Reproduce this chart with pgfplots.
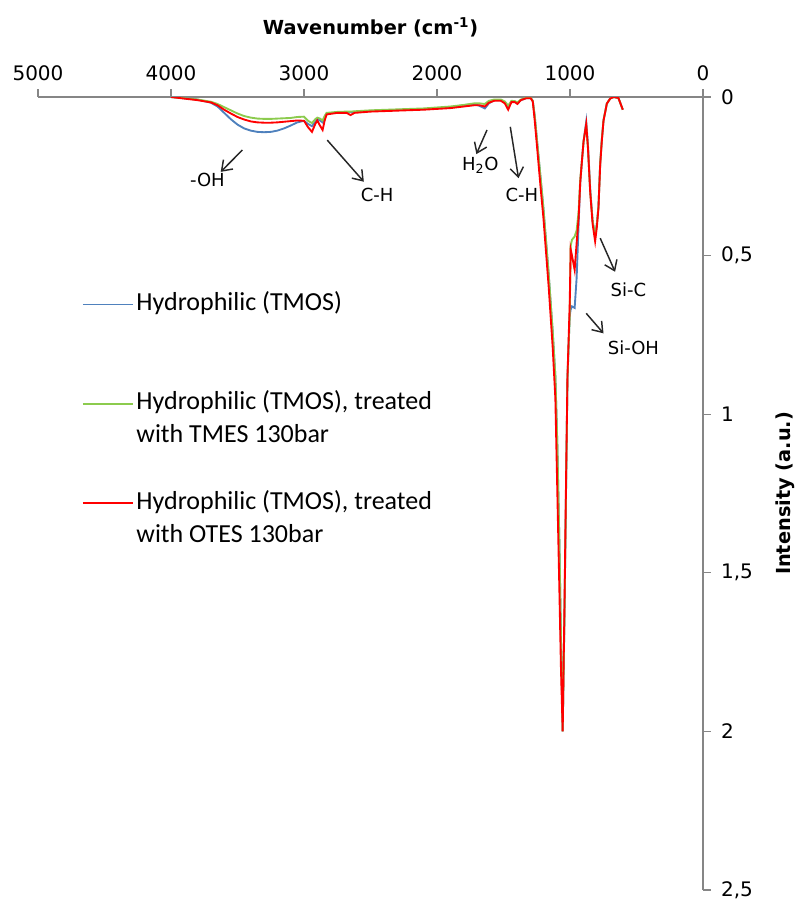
\documentclass[border=0pt]{standalone}
\usepackage{fontspec}
\setmainfont{DejaVu Sans}
\newfontfamily\dejavu{DejaVu Sans}
\newfontfamily\calib{Carlito}
\usepackage{pgfplots}
\usepackage{pgfplotstable}
\pgfplotsset{compat=1.18}
\usetikzlibrary{arrows.meta}
\definecolor{sblue}{HTML}{4F81BD}
\definecolor{sgreen}{HTML}{8CCB4E}
\definecolor{sred}{HTML}{FF0000}
\definecolor{axgray}{HTML}{868686}
\pgfplotstableread{
wn B G R
4000 0.000 0.000 0.000
3900 0.004 0.004 0.005
3800 0.008 0.008 0.010
3700 0.018 0.015 0.017
3650 0.030 0.022 0.026
3600 0.050 0.032 0.040
3550 0.070 0.042 0.052
3500 0.087 0.052 0.063
3450 0.099 0.060 0.071
3400 0.106 0.065 0.077
3350 0.110 0.068 0.080
3300 0.111 0.069 0.081
3250 0.110 0.069 0.081
3200 0.106 0.068 0.080
3150 0.099 0.067 0.078
3100 0.090 0.066 0.076
3050 0.080 0.063 0.074
3000 0.075 0.062 0.075
2970 0.085 0.075 0.095
2940 0.092 0.082 0.110
2915 0.078 0.070 0.085
2900 0.070 0.065 0.074
2880 0.074 0.068 0.090
2860 0.080 0.074 0.104
2845 0.065 0.060 0.075
2830 0.052 0.050 0.055
2750 0.049 0.047 0.050
2680 0.048 0.046 0.050
2650 0.048 0.046 0.057
2620 0.047 0.045 0.050
2500 0.044 0.042 0.046
2300 0.041 0.039 0.043
2100 0.038 0.036 0.040
1900 0.032 0.030 0.035
1800 0.026 0.025 0.030
1720 0.022 0.020 0.026
1680 0.028 0.020 0.026
1640 0.036 0.022 0.030
1610 0.020 0.012 0.018
1570 0.010 0.008 0.012
1520 0.010 0.008 0.012
1490 0.016 0.014 0.020
1465 0.032 0.027 0.040
1440 0.014 0.012 0.016
1415 0.014 0.013 0.016
1395 0.020 0.017 0.022
1370 0.010 0.008 0.010
1330 0.004 0.003 0.004
1295 0.004 0.003 0.004
1280 0.012 0.012 0.014
1265 0.060 0.060 0.075
1245 0.150 0.150 0.170
1220 0.260 0.260 0.290
1200 0.350 0.350 0.380
1160 0.560 0.560 0.600
1130 0.740 0.740 0.790
1110 0.880 0.880 0.950
1095 1.100 1.100 1.250
1080 1.400 1.400 1.550
1068 1.700 1.700 1.800
1055 2.000 2.000 2.000
1042 1.650 1.650 1.620
1030 1.250 1.250 1.220
1019 0.890 0.890 0.880
1010 0.780 0.780 0.760
1002 0.690 0.690 0.650
995 0.670 0.470 0.480
985 0.660 0.450 0.500
965 0.665 0.440 0.545
950 0.570 0.420 0.460
935 0.400 0.360 0.380
923 0.270 0.260 0.270
910 0.200 0.200 0.200
898 0.140 0.140 0.140
878 0.078 0.090 0.085
865 0.150 0.160 0.160
848 0.290 0.300 0.300
830 0.390 0.390 0.400
811 0.440 0.440 0.455
798 0.400 0.400 0.410
786 0.346 0.346 0.350
773 0.209 0.209 0.215
761 0.136 0.136 0.140
748 0.073 0.073 0.075
723 0.021 0.021 0.021
698 0.005 0.005 0.005
673 0.000 0.000 0.000
636 0.003 0.003 0.003
603 0.040 0.040 0.040
}\spectra
\begin{document}
\begin{tikzpicture}
\begin{axis}[
  scale only axis, width=498.75pt, height=594.75pt,
  x dir=reverse, y dir=reverse,
  xmin=0, xmax=5000, ymin=0, ymax=2.5,
  axis x line=top, axis y line=right,
  axis line style={axgray, line width=0.9pt, -},
  xtick={0,1000,...,5000}, ytick={0,0.5,1,1.5,2,2.5},
  tick style={axgray, line width=0.9pt},
  tick align=outside, major tick length=6pt,
  /pgf/number format/assume math mode=true,
  /pgf/number format/use comma, /pgf/number format/1000 sep={},
  ticklabel style={font=\dejavu\fontsize{15}{18}\selectfont},
  xticklabel shift=3pt, yticklabel shift=4pt,
  xlabel={\textbf{Wavenumber (cm\textsuperscript{-1})}},
  ylabel={\textbf{Intensity (a.u.)}},
  label style={font=\dejavu\fontsize{14.5}{17}\selectfont},
  xlabel shift=14pt, ylabel shift=10pt,
  legend style={at={(axis cs:4700,0.595)}, anchor=north west, draw=none, fill=none,
    font=\calib\fontsize{19.5}{24.75}\selectfont, row sep=30pt,
    nodes={align=left, inner sep=2pt}},
  legend cell align=left,
  legend image code/.code={\draw[#1, line width=1.2pt] (0pt,10.5pt) -- (37.5pt,10.5pt);},
]
\addplot[sblue, line width=1.4pt] table[x=wn, y=B] {\spectra};
\addlegendentry{Hydrophilic (TMOS)\\\strut}
\addplot[sgreen, line width=1.4pt] table[x=wn, y=G] {\spectra};
\addlegendentry{Hydrophilic (TMOS), treated\\with TMES 130bar}
\addplot[sred, line width=1.4pt] table[x=wn, y=R] {\spectra};
\addlegendentry{Hydrophilic (TMOS), treated\\with OTES 130bar}

\begin{scope}[every node/.style={font=\dejavu\fontsize{13.5}{15}\selectfont}]
\draw[-{Straight Barb[length=7pt,width=10pt]}, line width=1.1pt, black!85] (axis cs:3463,0.167) -- (axis cs:3626,0.236);
\node at (axis cs:3726,0.262) {-OH};
\draw[-{Straight Barb[length=7pt,width=10pt]}, line width=1.1pt, black!85] (axis cs:2825,0.136) -- (axis cs:2550,0.267);
\node at (axis cs:2450,0.309) {C-H};
\draw[-{Straight Barb[length=7pt,width=10pt]}, line width=1.1pt, black!85] (axis cs:1624,0.104) -- (axis cs:1704,0.180);
\node at (axis cs:1674,0.214) {H\textsubscript{2}O};
\draw[-{Straight Barb[length=7pt,width=10pt]}, line width=1.1pt, black!85] (axis cs:1449,0.094) -- (axis cs:1387,0.256);
\node at (axis cs:1361,0.309) {C-H};
\draw[-{Straight Barb[length=7pt,width=10pt]}, line width=1.1pt, black!85] (axis cs:773,0.445) -- (axis cs:661,0.551);
\node at (axis cs:561,0.608) {Si-C};
\draw[-{Straight Barb[length=7pt,width=10pt]}, line width=1.1pt, black!85] (axis cs:878,0.682) -- (axis cs:748,0.745);
\node at (axis cs:523,0.792) {Si-OH};
\end{scope}
\end{axis}
\pgfresetboundingbox
\path ([xshift=-28.5pt,yshift=-7.5pt]current axis.south west) rectangle ([xshift=72pt,yshift=72.75pt]current axis.north east);
\end{tikzpicture}
\end{document}
